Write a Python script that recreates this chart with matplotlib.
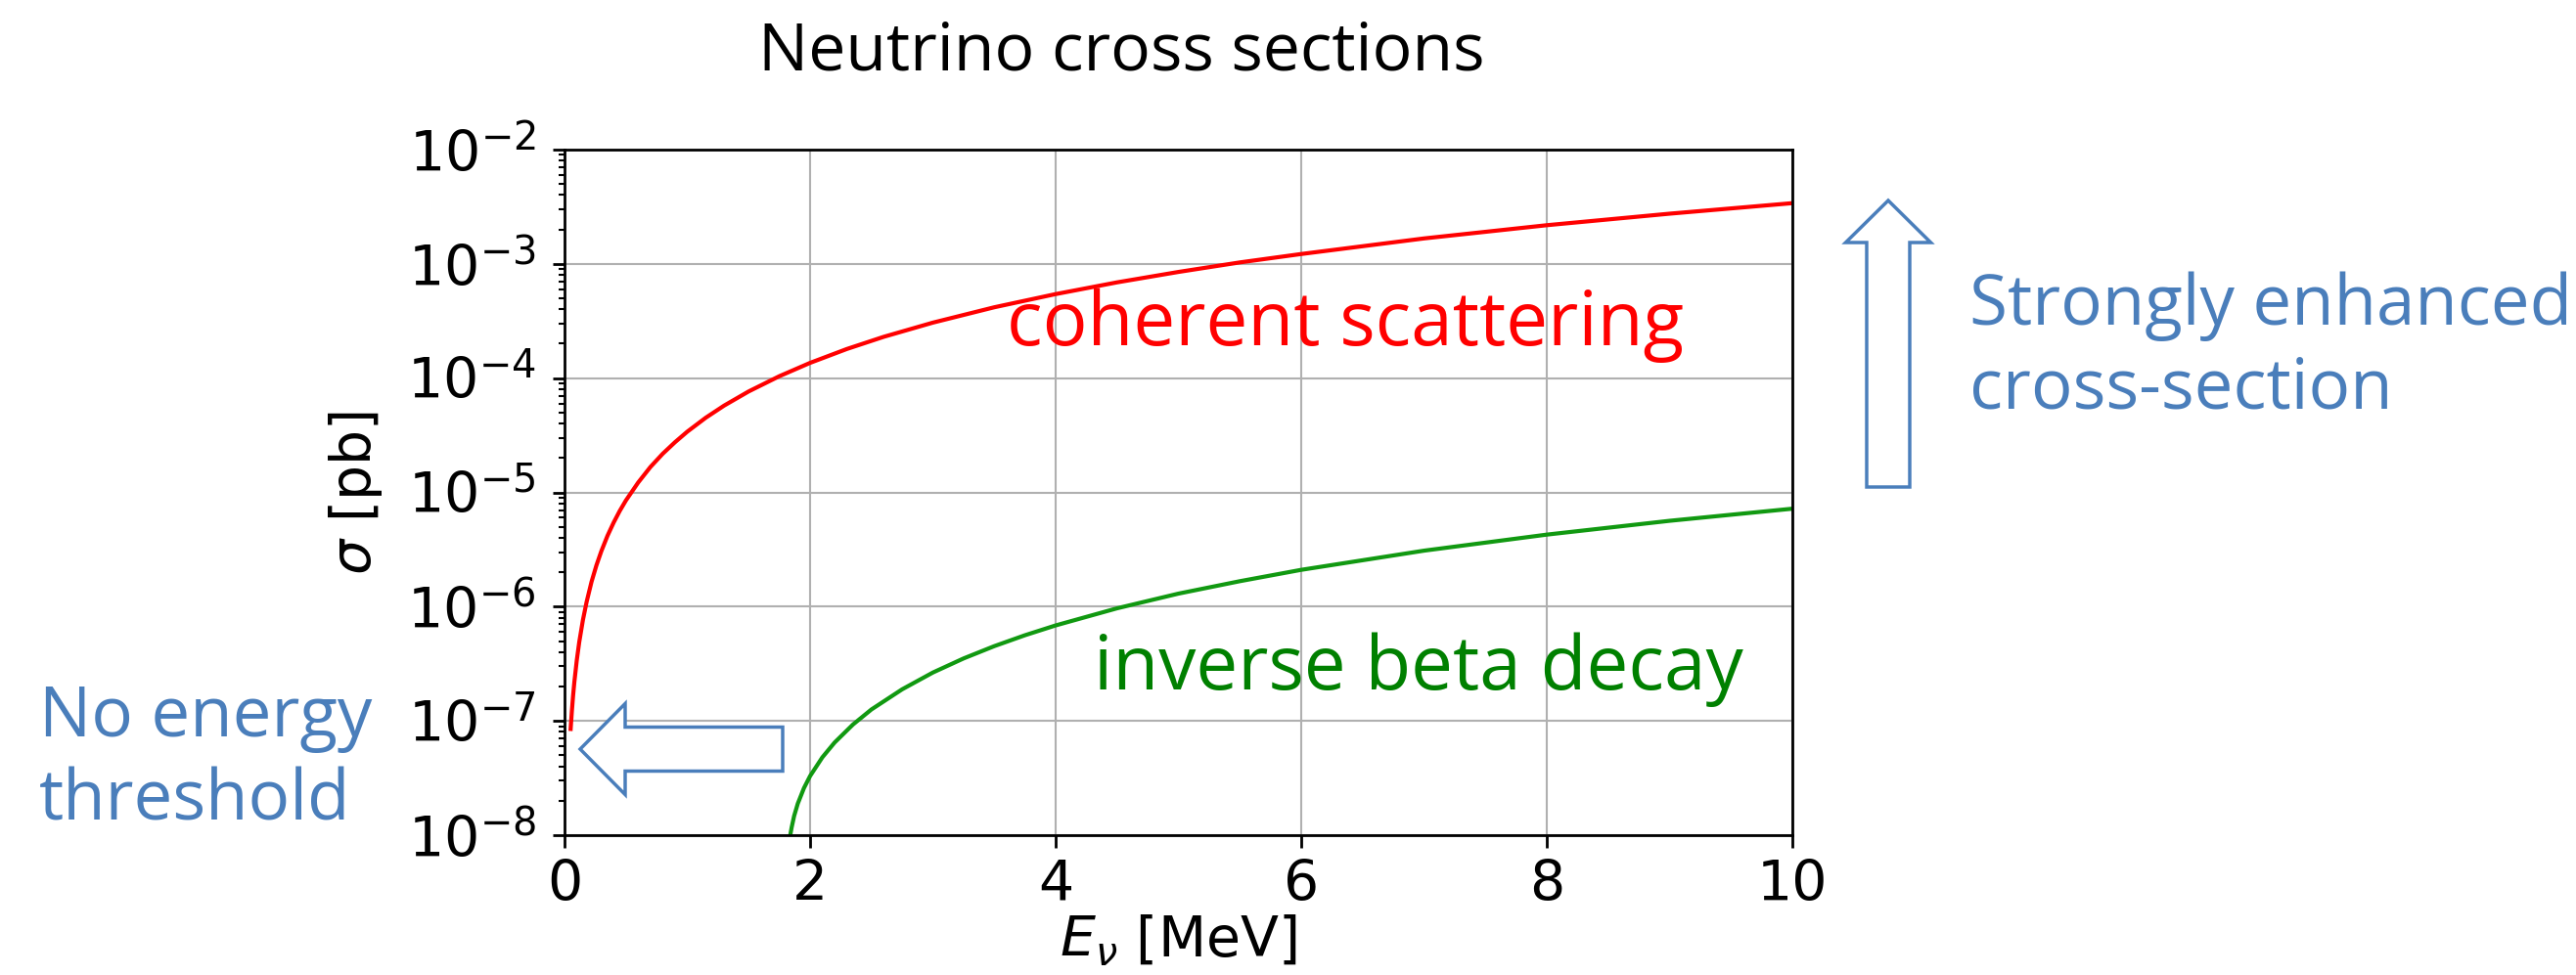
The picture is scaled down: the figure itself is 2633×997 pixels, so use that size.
import matplotlib
matplotlib.use("Agg")
import matplotlib.pyplot as plt
from matplotlib.patches import FancyArrow
from matplotlib.ticker import LogLocator, NullFormatter

# Coherent elastic neutrino-nucleus scattering
coh_energy = [0.05, 0.06, 0.07, 0.08, 0.1, 0.12, 0.15, 0.18, 0.22, 0.26, 0.3,
              0.35, 0.4, 0.45, 0.5, 0.6, 0.7, 0.8, 0.9, 1.0, 1.15, 1.3, 1.5,
              1.75, 2.0, 2.3, 2.6, 3.0, 3.5, 4.0, 4.5, 5.0, 5.5, 6.0, 7.0,
              8.0, 9.0, 10.0]
coh_sigma = [8.5e-8, 1.22e-7, 1.67e-7, 2.18e-7, 3.4e-7, 4.9e-7, 7.65e-7,
             1.10e-6, 1.65e-6, 2.30e-6, 3.06e-6, 4.17e-6, 5.44e-6, 6.89e-6,
             8.5e-6, 1.22e-5, 1.67e-5, 2.18e-5, 2.75e-5, 3.4e-5, 4.5e-5,
             5.75e-5, 7.65e-5, 1.04e-4, 1.36e-4, 1.80e-4, 2.30e-4, 3.06e-4,
             4.17e-4, 5.44e-4, 6.89e-4, 8.5e-4, 1.03e-3, 1.22e-3, 1.67e-3,
             2.18e-3, 2.75e-3, 3.4e-3]

# Inverse beta decay
ibd_energy = [1.83, 1.84, 1.85, 1.87, 1.9, 1.95, 2.0, 2.1, 2.2, 2.35, 2.5,
              2.75, 3.0, 3.25, 3.5, 3.75, 4.0, 4.5, 5.0, 5.5, 6.0, 7.0, 8.0,
              9.0, 10.0]
ibd_sigma = [8.4e-9, 1.02e-8, 1.17e-8, 1.47e-8, 1.89e-8, 2.58e-8, 3.29e-8,
             4.80e-8, 6.47e-8, 9.31e-8, 1.26e-7, 1.89e-7, 2.65e-7, 3.52e-7,
             4.51e-7, 5.62e-7, 6.85e-7, 9.67e-7, 1.30e-6, 1.67e-6, 2.10e-6,
             3.09e-6, 4.27e-6, 5.64e-6, 7.2e-6]

x_ticks = [0, 2, 4, 6, 8, 10]

W, H = 2633, 997
DPI = 100
BLUE = "#4a7ebb"
SLIDE_FONT = ["Open Sans", "DejaVu Sans"]

fig = plt.figure(figsize=(W / DPI, H / DPI), dpi=DPI)
ax = fig.add_axes([577 / W, 1 - 854 / H, (1832 - 577) / W, (854 - 153) / H])

ax.plot(coh_energy, coh_sigma, color="red", lw=3)
ax.plot(ibd_energy, ibd_sigma, color="#119911", lw=3)
ax.set_yscale("log")
ax.set_xlim(0, 10)
ax.set_ylim(1e-8, 1e-2)
ax.set_xticks(x_ticks)
ax.yaxis.set_major_locator(LogLocator(base=10, numticks=12))
ax.yaxis.set_minor_locator(LogLocator(base=10, subs=range(2, 10), numticks=12))
ax.yaxis.set_minor_formatter(NullFormatter())
ax.grid(True, which="major", color="#b0b0b0", lw=1.5)
ax.tick_params(which="major", labelsize=41, length=9, width=2)
ax.tick_params(axis="y", which="major", pad=12)
ax.tick_params(axis="x", which="major", pad=8)
ax.tick_params(which="minor", length=4.5, width=1.5)
for sp in ax.spines.values():
    sp.set_linewidth(2)

ax.set_ylabel(r"$\sigma$ [pb]", fontsize=41)
ax.set_xlabel(r"$E_\nu$ [MeV]", fontsize=41)
ax.yaxis.set_label_coords(-0.147, 0.5)
ax.xaxis.set_label_coords(0.5, -0.115)

fig.text(1146 / W, 1 - 72 / H, "Neutrino cross sections", fontsize=49,
         family=SLIDE_FONT, ha="center", va="baseline", color="black")
fig.text(1029 / W, 1 - 353 / H, "coherent scattering", fontsize=55,
         family=SLIDE_FONT, va="baseline", color="#ff0000")
fig.text(1118 / W, 1 - 705 / H, "inverse beta decay", fontsize=55,
         family=SLIDE_FONT, va="baseline", color="#008000")
# multi-line text: y is the baseline of the last line
fig.text(2013 / W, 1 - 417 / H, "Strongly enhanced\ncross-section",
         fontsize=51, family=SLIDE_FONT, va="baseline", color=BLUE,
         linespacing=1.24)
fig.text(40 / W, 1 - 838 / H, "No energy\nthreshold", fontsize=51,
         family=SLIDE_FONT, va="baseline", color=BLUE, linespacing=1.24)

# hollow block arrows, drawn in inches from the figure's lower-left corner
up = FancyArrow(19.30, (H - 498) / DPI, 0, (498 - 205) / DPI, width=0.44,
                head_width=0.87, head_length=0.43, length_includes_head=True,
                transform=fig.dpi_scale_trans, facecolor="white",
                edgecolor=BLUE, lw=2.5)
left = FancyArrow(8.00, (H - 766) / DPI, -(800 - 593) / DPI, 0, width=0.45,
                  head_width=0.93, head_length=0.46, length_includes_head=True,
                  transform=fig.dpi_scale_trans, facecolor="white",
                  edgecolor=BLUE, lw=2.5)
fig.patches.extend([up, left])

fig.savefig("out.png", dpi=DPI)
